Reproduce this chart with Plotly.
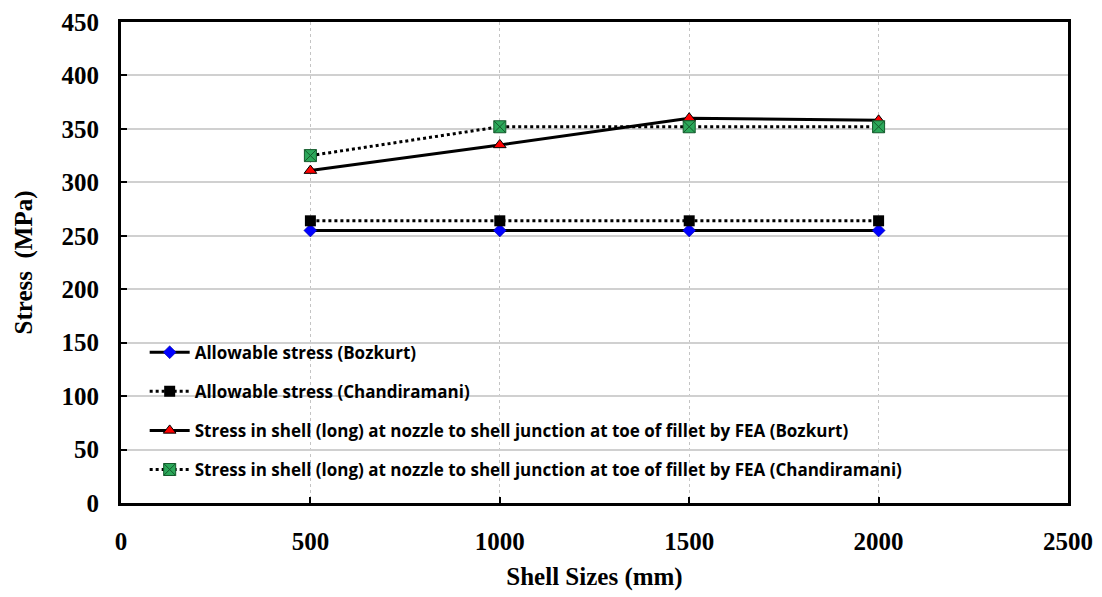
import plotly.graph_objects as go

shell_sizes = [500, 1000, 1500, 2000]
allow_bozkurt = [255, 255, 255, 255]
allow_chandiramani = [264, 264, 264, 264]
fea_bozkurt = [311, 335, 360, 358]
fea_chandiramani = [325, 352, 352, 352]

names = [
    "Allowable stress (Bozkurt)",
    "Allowable stress (Chandiramani)",
    "Stress in shell (long) at nozzle to shell junction at toe of fillet by FEA (Bozkurt)",
    "Stress in shell (long) at nozzle to shell junction at toe of fillet by FEA (Chandiramani)",
]

fig = go.Figure()
fig.add_trace(go.Scatter(
    x=shell_sizes, y=allow_bozkurt, name=names[0], mode="lines+markers", legendgroup="a",
    line=dict(color="black", width=3),
    marker=dict(symbol="diamond", size=10, color="#0000ff", line=dict(color="#00008b", width=0.5)),
))
fig.add_trace(go.Scatter(
    x=shell_sizes, y=allow_chandiramani, name=names[1], mode="lines+markers", legendgroup="b",
    line=dict(color="black", width=3, dash="dot"),
    marker=dict(symbol="square", size=11, color="black"),
))
fig.add_trace(go.Scatter(
    x=shell_sizes, y=fea_bozkurt, name=names[2], mode="lines+markers", legendgroup="c",
    line=dict(color="black", width=3),
    marker=dict(symbol="triangle-up", size=11, color="#ff0000", line=dict(color="black", width=1)),
))
fig.add_trace(go.Scatter(
    x=shell_sizes, y=fea_chandiramani, name=names[3], mode="lines+markers", legendgroup="d",
    line=dict(color="black", width=3, dash="dot"),
    marker=dict(symbol="square-x", size=12, color="#2ca85a", line=dict(color="#145a2c", width=1)),
))

tick_font = dict(family="Liberation Serif", size=25, color="black", weight="bold")
title_font = dict(family="Liberation Serif", size=25, color="black", weight="bold")

fig.update_layout(
    width=1102, height=597,
    margin=dict(l=121, r=34, t=22, b=94),
    paper_bgcolor="white", plot_bgcolor="white",
    showlegend=True,
    legend=dict(
        x=0.025, y=0.35, xanchor="left", yanchor="top",
        bgcolor="rgba(0,0,0,0)",
        font=dict(family="Open Sans", size=17, color="black", weight="bold"),
        tracegroupgap=14, itemwidth=40,
    ),
    xaxis=dict(
        range=[0, 2500], tickvals=[0, 500, 1000, 1500, 2000, 2500],
        ticks="inside", ticklen=6, tickwidth=2, tickcolor="black",
        showline=True, linecolor="black", linewidth=3, mirror=True,
        showgrid=True, gridcolor="#c4c4c4", griddash="3px,3px", gridwidth=1,
        zeroline=False, ticklabelstandoff=14, automargin=False,
        tickfont=tick_font,
        title=dict(text="Shell Sizes (mm)", font=title_font, standoff=14),
    ),
    yaxis=dict(
        range=[0, 450], dtick=50,
        ticks="inside", ticklen=6, tickwidth=2, tickcolor="black",
        showline=True, linecolor="black", linewidth=3, mirror=True,
        showgrid=True, gridcolor="#d0d0d0", gridwidth=1.5,
        zeroline=False, ticklabelstandoff=14, automargin=False,
        tickfont=tick_font,
        title=dict(text="Stress  (MPa)", font=title_font, standoff=22),
    ),
)

fig.write_html("out.html")
